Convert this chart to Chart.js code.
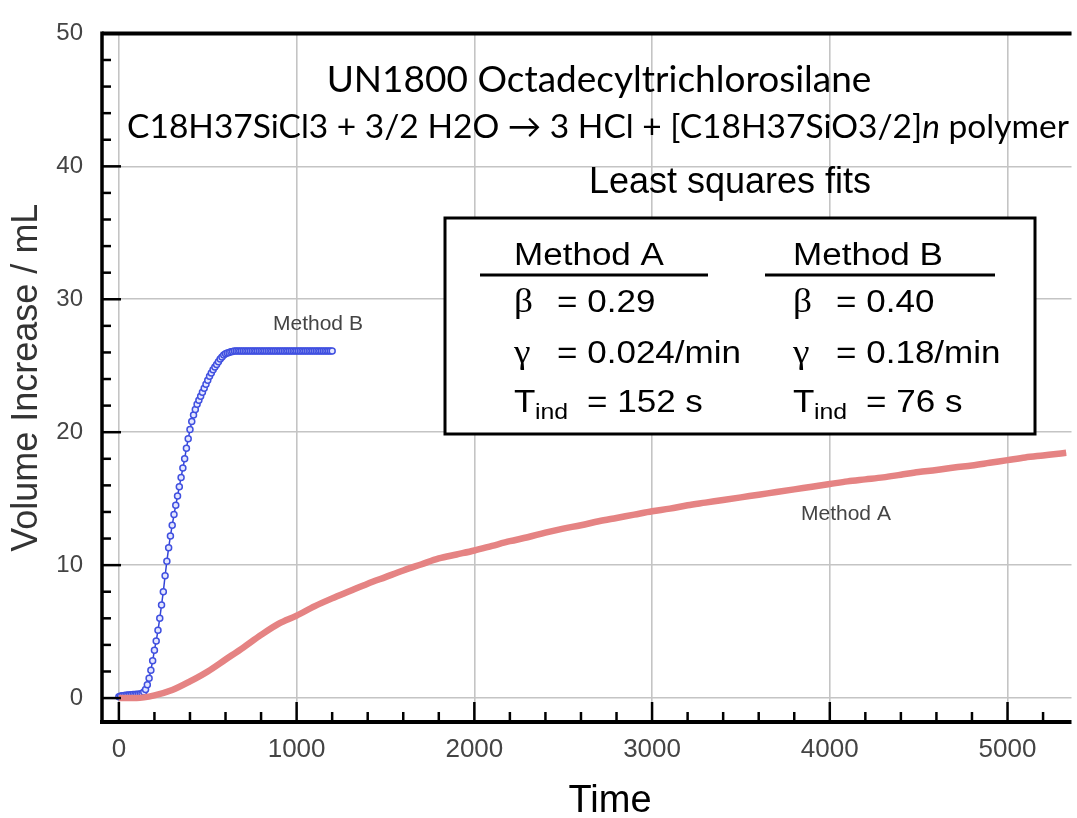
<!DOCTYPE html>
<html>
<head>
<meta charset="utf-8">
<script src="https://cdn.jsdelivr.net/npm/chart.js@4.4.0/dist/chart.umd.min.js"></script>
<style>
  html, body { margin: 0; padding: 0; background: #fff; }
  #wrap { width: 1077px; height: 818px; }
</style>
</head>
<body>
<div id="wrap"><canvas id="chart"></canvas></div>
<script>
// Method B (blue, open circles)
var blueTime = [0,10,20,30,40,50,60,70,80,90,100,110,120,
  130,140,150,160,170,180,190,200,210,220,230,240,250,
  260,270,280,290,300,310,320,330,340,350,360,370,380,
  390,400,410,420,430,440,450,460,470,480,490,500,510,
  520,530,540,550,560,570,580,590,600,610,620,630,640,
  650,660,670,680,690,700,710,720,730,740,750,760,770,780,790,
  800,810,820,830,840,850,860,870,880,890,900,910,920,930,940,
  950,960,970,980,990,1000,1010,1020,1030,1040,1050,1060,1070,1080,1090,
  1100,1110,1120,1130,1140,1150,1160,1170,1180,1190,1200];
var blueVolume = [0.10,0.15,0.18,0.20,0.22,0.23,0.24,0.25,0.26,0.27,0.28,0.29,0.31,
  0.35,0.45,0.65,1.0,1.5,2.1,2.8,3.6,4.3,5.1,6.0,7.0,8.0,
  9.2,10.3,11.3,12.2,13.0,13.8,14.5,15.2,15.9,16.6,17.3,18.0,18.8,
  19.5,20.2,20.8,21.3,21.7,22.1,22.4,22.7,23.0,23.3,23.6,23.9,24.2,
  24.45,24.7,24.9,25.1,25.3,25.5,25.65,25.8,25.9,25.95,26.0,26.05,26.08,
  26.1,26.1,26.1,26.1,26.1,26.1,26.1,26.1,26.1,26.1,26.1,26.1,26.1,26.1,26.1,
  26.1,26.1,26.1,26.1,26.1,26.1,26.1,26.1,26.1,26.1,26.1,26.1,26.1,26.1,26.1,
  26.1,26.1,26.1,26.1,26.1,26.1,26.1,26.1,26.1,26.1,26.1,26.1,26.1,26.1,26.1,
  26.1,26.1,26.1,26.1,26.1,26.1,26.1,26.1,26.1,26.1,26.1];

// Method A (red line)
var redTime = [0,100,200,300,400,500,600,700,800,900,
  1000,1100,1200,1300,1400,1500,1600,1700,1800,1900,
  2000,2100,2200,2300,2400,2500,2600,2700,2800,2900,
  3000,3100,3200,3300,3400,3500,3600,3700,3800,3900,
  4000,4100,4200,4300,4400,4500,4600,4700,4800,4900,
  5000,5100,5200,5300,5330];
var redVolume = [0,0.0,0.2,0.6,1.25,2.0,2.9,3.8,4.75,5.6,
  6.2,6.9,7.5,8.05,8.6,9.1,9.6,10.05,10.5,10.8,
  11.1,11.45,11.8,12.1,12.45,12.75,13.0,13.3,13.55,13.8,
  14.05,14.25,14.5,14.7,14.9,15.1,15.3,15.5,15.7,15.9,
  16.1,16.3,16.45,16.6,16.8,17.0,17.15,17.35,17.5,17.7,
  17.9,18.1,18.25,18.4,18.45];

var xTicks = [0, 1000, 2000, 3000, 4000, 5000];
var yTicks = [0, 10, 20, 30, 40, 50];
var xMinorStep = 200;
var yMinorStep = 2;

function toPoints(xs, ys) {
  var pts = [];
  for (var i = 0; i < xs.length; i++) pts.push({x: xs[i], y: ys[i]});
  return pts;
}

// text in the box is a bit wider than the font, like the original
function wideText(ctx, text, x, y, font, sx) {
  ctx.save();
  ctx.font = font;
  ctx.translate(x, y);
  ctx.scale(sx, 1);
  ctx.fillText(text, 0, 0);
  ctx.restore();
}

// axes frame, inward ticks, titles and the fit box
var decor = {
  id: 'decor',
  afterDatasetsDraw: function(chart) {
    var ctx = chart.ctx, a = chart.chartArea;
    var sx = chart.scales.x, sy = chart.scales.y;
    ctx.save();
    ctx.strokeStyle = '#000';
    ctx.lineCap = 'butt';

    // x ticks pointing up from the bottom axis
    ctx.lineWidth = 2.5;
    for (var v = 0; v <= sx.max; v += xMinorStep) {
      var px = sx.getPixelForValue(v);
      var len = (v % 1000 === 0) ? 20 : 10;
      ctx.beginPath();
      ctx.moveTo(px, a.bottom);
      ctx.lineTo(px, a.bottom - len);
      ctx.stroke();
    }
    // y ticks pointing right from the left axis
    for (var w = 0; w <= 50; w += yMinorStep) {
      var py = sy.getPixelForValue(w);
      var l2 = (w % 10 === 0) ? 19 : 9;
      ctx.beginPath();
      ctx.moveTo(a.left, py);
      ctx.lineTo(a.left + l2, py);
      ctx.stroke();
    }

    ctx.lineWidth = 4;
    ctx.beginPath();
    ctx.moveTo(a.left, a.top);
    ctx.lineTo(a.right, a.top);
    ctx.stroke();
    ctx.beginPath();
    ctx.moveTo(a.left - 2, a.bottom);
    ctx.lineTo(a.right, a.bottom);
    ctx.stroke();
    ctx.lineWidth = 3.5;
    ctx.beginPath();
    ctx.moveTo(a.left, a.top - 2);
    ctx.lineTo(a.left, a.bottom + 2);
    ctx.stroke();
    ctx.restore();
  },
  afterDraw: function(chart) {
    var ctx = chart.ctx;
    ctx.save();
    ctx.fillStyle = '#000';
    ctx.textBaseline = 'alphabetic';

    // titles
    ctx.textAlign = 'center';
    ctx.font = '37px Lato';
    ctx.fillText('UN1800 Octadecyltrichlorosilane', 599, 92);

    var p1 = 'C18H37SiCl3 + 3/2 H2O \u2192 3 HCl + [C18H37SiO3/2]';
    var p2 = 'n';
    var p3 = ' polymer';
    ctx.font = '33.5px Lato';
    var w1 = ctx.measureText(p1).width, w3 = ctx.measureText(p3).width;
    ctx.font = 'italic 33.5px Lato';
    var w2 = ctx.measureText(p2).width;
    var startX = 598 - (w1 + w2 + w3) / 2;
    ctx.textAlign = 'left';
    ctx.font = '33.5px Lato';
    ctx.fillText(p1, startX, 138);
    ctx.font = 'italic 33.5px Lato';
    ctx.fillText(p2, startX + w1, 138);
    ctx.font = '33.5px Lato';
    ctx.fillText(p3, startX + w1 + w2, 138);

    ctx.textAlign = 'center';
    ctx.font = '36px "Liberation Sans"';
    ctx.fillText('Least squares fits', 730, 193);

    // x axis title
    ctx.font = '38px "Liberation Sans"';
    ctx.fillText('Time', 610, 812);

    // fit results box
    ctx.fillStyle = '#fff';
    ctx.fillRect(445, 218, 590, 216);
    ctx.strokeStyle = '#000';
    ctx.lineWidth = 3;
    ctx.strokeRect(445, 218, 590, 216);
    ctx.beginPath();
    ctx.moveTo(480, 275); ctx.lineTo(708, 275);
    ctx.moveTo(765, 275); ctx.lineTo(995, 275);
    ctx.stroke();

    ctx.fillStyle = '#000';
    ctx.textAlign = 'left';
    var cols = [
      {x: 514, head: 'Method A', beta: '= 0.29', gamma: '= 0.024/min', tind: '= 152 s'},
      {x: 793, head: 'Method B', beta: '= 0.40', gamma: '= 0.18/min', tind: '= 76 s'}
    ];
    var sans = '"Liberation Sans"', serif = '"Liberation Serif"';
    cols.forEach(function(c) {
      wideText(ctx, c.head, c.x, 265, '31px ' + sans, 1.13);
      wideText(ctx, '\u03b2', c.x, 312, '34px ' + serif, 1.1);
      wideText(ctx, '\u03b3', c.x, 363, '34px ' + serif, 1.1);
      wideText(ctx, c.beta, c.x + 43, 312, '31px ' + sans, 1.13);
      wideText(ctx, c.gamma, c.x + 43, 363, '31px ' + sans, 1.13);
      wideText(ctx, 'T', c.x, 412, '31px ' + sans, 1.13);
      wideText(ctx, 'ind', c.x + 21, 419, '22px ' + sans, 1.13);
      wideText(ctx, c.tind, c.x + 73, 412, '31px ' + sans, 1.13);
    });

    // curve labels
    ctx.fillStyle = '#444';
    ctx.font = '21px "Liberation Sans"';
    ctx.fillText('Method B', 273, 330);
    ctx.fillText('Method A', 801, 520);
    ctx.restore();
  }
};

var ctx = document.getElementById('chart');

var chart = new Chart(ctx, {
  type: 'scatter',
  data: {
    datasets: [
      {
        label: 'Method A edge',
        data: toPoints(redTime, redVolume),
        showLine: true,
        borderColor: '#e58383',
        borderWidth: 6.5,
        pointRadius: 0,
        cubicInterpolationMode: 'monotone'
      },
      {
        label: 'Method A',
        data: toPoints(redTime, redVolume),
        showLine: true,
        borderColor: '#f8bcbc',
        borderWidth: 3,
        pointRadius: 0,
        cubicInterpolationMode: 'monotone'
      },
      {
        label: 'Method B',
        data: toPoints(blueTime, blueVolume),
        showLine: true,
        borderColor: '#3344d6',
        borderWidth: 1.5,
        pointRadius: 3,
        pointBorderWidth: 1.5,
        pointBorderColor: '#4050e0',
        pointBackgroundColor: '#e4e7ff'
      }
    ]
  },
  options: {
    responsive: true,
    maintainAspectRatio: false,
    animation: false,
    layout: { padding: { top: 24, right: 0, left: 0, bottom: 0 } },
    plugins: {
      legend: { display: false },
      tooltip: { enabled: false }
    },
    scales: {
      x: {
        type: 'linear',
        min: -95,
        max: 5360,
        afterBuildTicks: function(scale) {
          scale.ticks = xTicks.map(function(v) { return {value: v}; });
        },
        afterFit: function(scale) { scale.height = 96; },
        grid: { color: '#c4c4c4', lineWidth: 1.6, drawTicks: false },
        border: { display: false },
        ticks: {
          color: '#444',
          padding: 12,
          font: { family: 'Liberation Sans', size: 26 },
          callback: function(v) { return String(v); }
        }
      },
      y: {
        type: 'linear',
        min: -1.8,
        max: 50,
        afterBuildTicks: function(scale) {
          scale.ticks = yTicks.map(function(v) { return {value: v}; });
        },
        afterFit: function(scale) { scale.width = 102; },
        grid: { color: '#c4c4c4', lineWidth: 1.6, drawTicks: false },
        border: { display: false },
        ticks: {
          color: '#444',
          padding: 19,
          font: { family: 'Liberation Sans', size: 24 },
          callback: function(v) { return String(v); }
        },
        title: {
          display: true,
          text: 'Volume Increase / mL',
          color: '#333',
          padding: { top: 5, bottom: 0 },
          font: { family: 'Liberation Sans', size: 36 }
        }
      }
    }
  },
  plugins: [decor]
});
</script>
</body>
</html>
